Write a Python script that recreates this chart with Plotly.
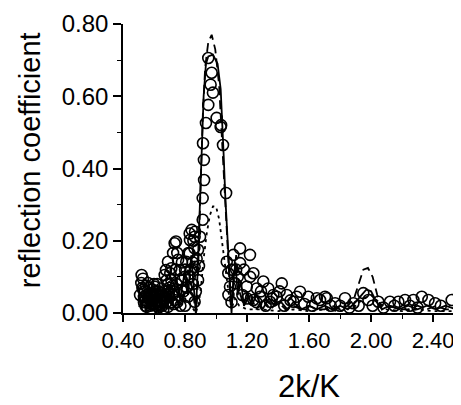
import plotly.graph_objects as go

# Solid curve
solid_x = [0.50,0.52,0.54,0.56,0.58,0.60,0.62,0.64,0.66,0.68,0.70,0.72,0.74,0.77,0.80,0.82,0.84,0.855,0.87,0.88,0.89,0.90,0.91,0.92,0.935,0.95,0.98,1.01,1.03,1.04,1.05,1.06,1.075,1.09,1.10,1.11,1.125,1.14,1.16,1.18,1.20,1.23,1.26,1.30,1.34,1.38,1.42,1.46,1.50,1.55,1.60,1.65,1.70,1.75,1.80,1.85,1.90,1.94,1.97,2.00,2.03,2.07,2.12,2.18,2.24,2.30,2.36,2.42,2.48,2.55]
solid_y = [0.07,0.02,0.06,0.01,0.05,0.02,0.06,0.01,0.07,0.02,0.08,0.02,0.10,0.04,0.12,0.05,0.16,0.08,0.00,0.10,0.24,0.36,0.50,0.60,0.69,0.71,0.715,0.69,0.62,0.54,0.43,0.32,0.19,0.06,0.00,0.08,0.14,0.05,0.09,0.02,0.06,0.02,0.05,0.01,0.04,0.02,0.03,0.01,0.03,0.01,0.02,0.01,0.02,0.01,0.02,0.01,0.03,0.05,0.065,0.06,0.035,0.01,0.02,0.01,0.02,0.01,0.02,0.01,0.02,0.01]

# Long-dashed curve
dash_x = [0.50,0.52,0.54,0.56,0.58,0.60,0.62,0.64,0.66,0.68,0.70,0.72,0.74,0.78,0.82,0.85,0.87,0.88,0.89,0.90,0.915,0.93,0.95,0.972,0.995,1.02,1.04,1.06,1.08,1.095,1.11,1.13,1.15,1.18,1.22,1.26,1.30,1.35,1.40,1.45,1.50,1.55,1.60,1.65,1.70,1.75,1.80,1.85,1.89,1.92,1.95,1.98,2.01,2.04,2.07,2.12,2.18,2.24,2.30,2.36,2.42,2.48,2.55]
dash_y = [0.05,0.01,0.06,0.02,0.05,0.01,0.06,0.02,0.07,0.01,0.07,0.02,0.09,0.03,0.12,0.06,0.00,0.05,0.20,0.35,0.55,0.68,0.75,0.77,0.73,0.63,0.47,0.28,0.12,0.02,0.07,0.16,0.06,0.02,0.05,0.01,0.04,0.01,0.03,0.01,0.02,0.01,0.02,0.01,0.01,0.02,0.01,0.02,0.04,0.08,0.12,0.125,0.10,0.05,0.01,0.02,0.01,0.01,0.02,0.01,0.02,0.01,0.01]

# Short-dashed (dotted) curve
dot_x = [0.50,0.55,0.60,0.65,0.70,0.75,0.80,0.84,0.87,0.89,0.905,0.92,0.94,0.96,0.98,1.00,1.02,1.04,1.06,1.08,1.10,1.12,1.15,1.20,1.30,1.40,1.50,1.60,1.70,1.80,1.90,1.95,2.00,2.05,2.10,2.20,2.30,2.40,2.55]
dot_y = [0.02,0.01,0.03,0.01,0.03,0.01,0.04,0.02,0.00,0.03,0.08,0.15,0.22,0.27,0.295,0.295,0.26,0.19,0.13,0.06,0.01,0.04,0.02,0.01,0.01,0.005,0.01,0.005,0.01,0.005,0.02,0.04,0.05,0.03,0.01,0.005,0.01,0.005,0.005]

# Measured points (open circles)
meas_x = [0.95,0.972,0.965,0.98,0.95,1.004,1.033,1.03,0.935,0.916,1.045,0.922,0.923,0.914,0.914,1.065,0.865,0.854,
          0.52,0.518,0.529,0.54,0.535,0.55,0.561,0.57,0.575,0.583,0.59,0.60,0.604,0.61,0.62,0.625,0.637,0.647,0.655,0.66,
          0.669,0.677,0.69,0.69,0.70,0.712,0.712,0.72,0.723,0.733,0.733,0.742,0.745,0.75,0.755,0.766,0.77,0.776,0.78,
          0.798,0.808,0.819,0.822,0.83,0.832,0.843,0.83,0.84,0.85,0.862,0.862,0.862,0.87,0.884,0.884,0.897,0.553,0.58,
          0.56,0.545,0.63,0.66,0.68,0.75,0.80,
          0.525,0.545,0.565,0.585,0.60,0.615,0.635,0.65,0.67,0.685,0.70,0.715,0.73,0.60,0.64,0.57,0.62,0.68,0.705,
          0.76,0.79,0.81,0.83,0.85,0.875,0.89,0.80,0.86,0.78,0.74,
          0.51,0.53,0.555,0.575,0.595,0.61,0.645,0.665,0.695,0.725,0.535,0.59,0.655,0.69,0.72,
          1.069,1.079,1.09,1.10,1.112,1.123,1.13,1.155,1.155,1.17,1.198,1.219,1.22,1.241,1.241,1.263,1.284,1.305,1.32,
          1.337,1.348,1.37,1.392,1.424,1.44,1.456,1.48,1.499,1.52,1.542,1.57,1.595,1.62,1.65,1.671,1.703,1.714,1.74,
          1.768,1.80,1.832,1.86,1.886,1.92,1.95,1.983,2.01,2.047,2.08,2.122,2.15,2.176,2.219,2.25,2.273,2.30,2.327,
          2.37,2.413,2.45,2.52,
          1.08,1.10,1.14,1.18,1.20,1.26,1.29,1.36,1.41]
meas_y = [0.706,0.665,0.632,0.61,0.576,0.54,0.52,0.515,0.526,0.47,0.465,0.424,0.368,0.318,0.258,0.332,0.225,0.20,
          0.105,0.083,0.095,0.06,0.045,0.075,0.083,0.055,0.035,0.045,0.065,0.025,0.073,0.05,0.035,0.06,0.045,0.068,0.03,0.05,
          0.105,0.119,0.142,0.017,0.07,0.091,0.124,0.05,0.166,0.193,0.036,0.198,0.08,0.166,0.147,0.119,0.02,0.064,0.09,
          0.10,0.142,0.045,0.166,0.22,0.202,0.23,0.165,0.12,0.08,0.211,0.128,0.031,0.06,0.175,0.091,0.211,0.017,0.01,
          0.03,0.02,0.015,0.01,0.03,0.03,0.02,
          0.07,0.035,0.04,0.025,0.05,0.02,0.025,0.045,0.04,0.06,0.045,0.03,0.06,0.08,0.02,0.07,0.08,0.09,0.11,
          0.05,0.06,0.07,0.10,0.14,0.15,0.13,0.12,0.18,0.14,0.12,
          0.05,0.065,0.05,0.02,0.04,0.06,0.055,0.035,0.055,0.025,0.03,0.05,0.02,0.08,0.075,
          0.142,0.11,0.073,0.03,0.161,0.082,0.12,0.179,0.138,0.05,0.073,0.161,0.10,0.11,0.036,0.068,0.045,0.087,0.02,
          0.068,0.031,0.05,0.045,0.082,0.02,0.05,0.035,0.031,0.045,0.059,0.025,0.045,0.02,0.041,0.036,0.045,0.041,0.02,
          0.027,0.02,0.041,0.015,0.027,0.02,0.055,0.036,0.02,0.031,0.015,0.031,0.02,0.031,0.036,0.02,0.036,0.015,0.045,
          0.036,0.027,0.02,0.036,
          0.05,0.12,0.10,0.12,0.04,0.03,0.06,0.04,0.06]

x_ticks = [0.4, 0.8, 1.2, 1.6, 2.0, 2.4]
x_tick_labels = ["0.40", "0.80", "1.20", "1.60", "2.00", "2.40"]
y_ticks = [0.0, 0.2, 0.4, 0.6, 0.8]
y_tick_labels = ["0.00", "0.20", "0.40", "0.60", "0.80"]

FONT = "Liberation Sans, Arial, sans-serif"

fig = go.Figure()
fig.add_trace(go.Scatter(x=meas_x, y=meas_y, mode="markers",
                         marker=dict(symbol="circle-open", size=11, color="black", line=dict(width=1.6, color="black")),
                         showlegend=False))
fig.add_trace(go.Scatter(x=dot_x, y=dot_y, mode="lines",
                         line=dict(color="black", width=1.8, dash="3px,4px"), showlegend=False))
fig.add_trace(go.Scatter(x=dash_x, y=dash_y, mode="lines",
                         line=dict(color="black", width=1.8, dash="9px,5px"), showlegend=False))
fig.add_trace(go.Scatter(x=solid_x, y=solid_y, mode="lines",
                         line=dict(color="black", width=1.8), showlegend=False))

fig.update_layout(
    width=453, height=397,
    margin=dict(l=115, r=0, t=16, b=92),
    paper_bgcolor="white", plot_bgcolor="white",
    font=dict(family=FONT, color="black"),
    xaxis=dict(range=[0.4, 2.58], tickvals=x_ticks, ticktext=x_tick_labels,
               showline=True, linecolor="black", linewidth=1.5, mirror=False,
               ticks="outside", ticklen=7, tickwidth=1.5, tickcolor="black",
               showgrid=False, zeroline=False, tickfont=dict(size=22, family=FONT, color="black"),
               minor=dict(tickvals=[0.6, 1.0, 1.4, 1.8, 2.2, 2.6], ticks="outside", ticklen=4, tickwidth=1.2, tickcolor="black")),
    yaxis=dict(range=[0, 0.8], tickvals=y_ticks, ticktext=y_tick_labels,
               showline=True, linecolor="black", linewidth=1.5, mirror=False,
               ticks="outside", ticklen=8, tickwidth=1.5, tickcolor="black",
               showgrid=False, zeroline=False, tickfont=dict(size=24, family=FONT, color="black"),
               minor=dict(tickvals=[0.1, 0.3, 0.5, 0.7], ticks="outside", ticklen=4, tickwidth=1.2, tickcolor="black")),
    annotations=[
        dict(text="reflection coefficient", xref="paper", yref="paper", x=-0.275, y=0.529,
             xanchor="center", yanchor="middle", textangle=-90, showarrow=False,
             font=dict(size=29, family=FONT, color="black")),
        dict(text="2k/K", xref="paper", yref="paper", x=0.55, y=-0.256,
             xanchor="center", yanchor="middle", showarrow=False,
             font=dict(size=31, family=FONT, color="black")),
    ],
)

fig.write_html("out.html")
